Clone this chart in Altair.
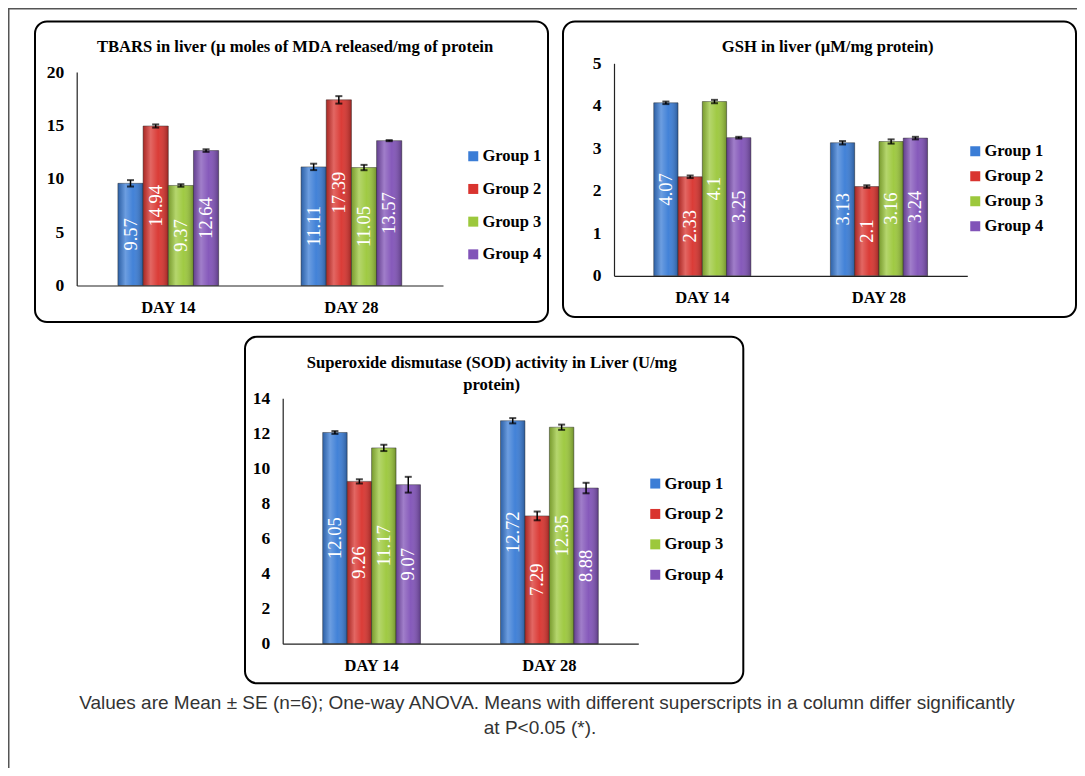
import altair as alt
import pandas as pd

# ---------------- data ----------------
groups = ["Group 1", "Group 2", "Group 3", "Group 4"]
days = ["DAY 14", "DAY 28"]
colors = ["#3b7dd6", "#d9342f", "#9cc83c", "#8153b8"]

tbars_day14 = [9.57, 14.94, 9.37, 12.64]
tbars_day28 = [11.11, 17.39, 11.05, 13.57]
tbars_se_day14 = [0.30, 0.15, 0.12, 0.12]
tbars_se_day28 = [0.30, 0.35, 0.25, 0.05]

gsh_day14 = [4.07, 2.33, 4.10, 3.25]
gsh_day28 = [3.13, 2.10, 3.16, 3.24]
gsh_se_day14 = [0.03, 0.03, 0.04, 0.02]
gsh_se_day28 = [0.04, 0.03, 0.05, 0.03]

sod_day14 = [12.05, 9.26, 11.17, 9.07]
sod_day28 = [12.72, 7.29, 12.35, 8.88]
sod_se_day14 = [0.08, 0.12, 0.18, 0.45]
sod_se_day28 = [0.15, 0.25, 0.15, 0.30]

title_tbars = "TBARS in liver (\u00b5 moles of MDA released/mg of protein"
title_gsh = "GSH in liver (\u00b5M/mg protein)"
title_sod_1 = "Superoxide dismutase (SOD) activity in Liver (U/mg"
title_sod_2 = "protein)"
caption_1 = ("Values are Mean \u00b1 SE (n=6); One-way ANOVA. Means with different "
             "superscripts in a column differ significantly")
caption_2 = "at P<0.05 (*)."

W, H = 1069, 760
SERIF = "Liberation Serif"
SANS = "Liberation Sans"

gloss = alt.LinearGradient(
    gradient="linear", x1=0, x2=1, y1=0, y2=0,
    stops=[
        alt.GradientStop(offset=0, color="rgba(0,0,0,0.22)"),
        alt.GradientStop(offset=0.3, color="rgba(255,255,255,0.25)"),
        alt.GradientStop(offset=0.6, color="rgba(255,255,255,0.04)"),
        alt.GradientStop(offset=1, color="rgba(0,0,0,0.28)"),
    ],
)


def panel(v14, v28, s14, s28, ymax, step, xr, yr, leg_x, leg_y, row_pad):
    rows = []
    for day, vals, ses in ((days[0], v14, s14), (days[1], v28, s28)):
        for g, v, s in zip(groups, vals, ses):
            rows.append(dict(day=day, group=g, value=v, lo=v - s, hi=v + s,
                             mid=v / 2, label=f"{v:g}"))
    df = pd.DataFrame(rows)
    base = alt.Chart(df)

    x = alt.X("day:N", sort=days, title=None,
              scale=alt.Scale(domain=days, range=list(xr), paddingInner=0.45, paddingOuter=0.225),
              axis=alt.Axis(orient="bottom", offset=yr[0] - H, labelAngle=0, ticks=False,
                            tickSize=0, labelPadding=14, labelFont=SERIF, labelFontWeight="bold",
                            labelFontSize=16.5, labelColor="black", domainColor="#222",
                            domainWidth=1.2, zindex=1))
    xo = alt.XOffset("group:N", sort=groups,
                     scale=alt.Scale(domain=groups, paddingInner=0, paddingOuter=0))

    def yenc(field):
        return alt.Y(field, title=None,
                     scale=alt.Scale(domain=[0, ymax], range=list(yr), nice=False, zero=True),
                     axis=alt.Axis(orient="left", offset=-xr[0],
                                   values=list(range(0, ymax + 1, step)), grid=False,
                                   ticks=False, tickSize=0, labelPadding=13, labelFont=SERIF,
                                   labelFontWeight="bold", labelFontSize=17.5,
                                   labelColor="black", domainColor="#222", domainWidth=1.2,
                                   zindex=1))

    color = alt.Color("group:N", sort=groups,
                      scale=alt.Scale(domain=groups, range=colors),
                      legend=alt.Legend(orient="none", legendX=leg_x, legendY=leg_y, title=None,
                                        symbolType="square", symbolSize=100,
                                        symbolStrokeWidth=0, labelFont=SERIF,
                                        labelFontWeight="bold", labelFontSize=16.5,
                                        labelColor="black", rowPadding=row_pad,
                                        labelOffset=1, padding=0))

    bars = base.mark_bar(stroke="#333", strokeWidth=0.7, strokeOpacity=0.7).encode(
        x=x, xOffset=xo, y=yenc("value:Q"), color=color)
    shine = base.mark_bar(fill=gloss, strokeWidth=0).encode(
        x=x, xOffset=xo, y=yenc("value:Q"))
    err = base.mark_rule(color="black", strokeWidth=1.5).encode(
        x=x, xOffset=xo, y=yenc("lo:Q"), y2="hi:Q")
    cap_hi = base.mark_tick(color="black", size=7, thickness=2).encode(
        x=x, xOffset=xo, y=yenc("hi:Q"))
    cap_lo = base.mark_tick(color="black", size=7, thickness=2).encode(
        x=x, xOffset=xo, y=yenc("lo:Q"))
    txt = base.mark_text(angle=270, color="white", font=SERIF, fontSize=18.5,
                         align="center", baseline="middle").encode(
        x=x, xOffset=xo, y=yenc("mid:Q"), text="label:N")
    return alt.layer(bars, shine, err, cap_hi, cap_lo, txt)


def label(text, x, y, size, font=SERIF, weight="bold", color="black"):
    return alt.Chart(pd.DataFrame({"t": [text]})).mark_text(
        font=font, fontSize=size, fontWeight=weight, color=color,
        align="center", baseline="middle").encode(
        x=alt.value(x), y=alt.value(y), text="t:N")


def box(x0, y0, x1, y1):
    return alt.Chart(pd.DataFrame({"b": [0]})).mark_rect(
        fill="white", stroke="black", strokeWidth=2, cornerRadius=12).encode(
        x=alt.value(x0), x2=alt.value(x1), y=alt.value(y0), y2=alt.value(y1))


one = pd.DataFrame({"b": [0]})
frame_v = alt.Chart(one).mark_rule(color="#555", strokeWidth=1.5).encode(
    x=alt.value(0.75), y=alt.value(0), y2=alt.value(H))
frame_h = alt.Chart(one).mark_rule(color="#555", strokeWidth=1.5).encode(
    y=alt.value(0.75), x=alt.value(0), x2=alt.value(W))

p1 = panel(tbars_day14, tbars_day28, tbars_se_day14, tbars_se_day28, 20, 5,
           (68.7, 435.0), (277.5, 64.0), 457, 140, 15.7)
p2 = panel(gsh_day14, gsh_day28, gsh_se_day14, gsh_se_day28, 5, 1,
           (606.0, 959.3), (267.8, 55.3), 959, 135, 8)
p3 = panel(sod_day14, sod_day28, sod_se_day14, sod_se_day28, 14, 2,
           (274.7, 630.3), (635.7, 390.3), 639, 467.3, 13.4)

chart = alt.layer(
    frame_v, frame_h,
    box(27, 13.5, 540, 314), box(555, 13.5, 1068, 309), box(237, 328.7, 735.3, 675.3),
    p1, p2, p3,
    label(title_tbars, 287, 38.7, 16.6),
    label(title_gsh, 819.7, 38.7, 16.6),
    label(title_sod_1, 483.7, 355.3, 16.6),
    label(title_sod_2, 483.7, 377, 16.6),
    label(caption_1, 539, 695, 19, font=SANS, weight="normal", color="#333"),
    label(caption_2, 532, 720, 19, font=SANS, weight="normal", color="#333"),
).resolve_scale(
    x="independent", y="independent", xOffset="independent", color="independent"
).properties(
    width=W, height=H, autosize=alt.AutoSizeParams(type="none"), padding=0
).configure_view(stroke=None)

chart.save("out.html", embed_options={"renderer": "svg", "actions": False})
